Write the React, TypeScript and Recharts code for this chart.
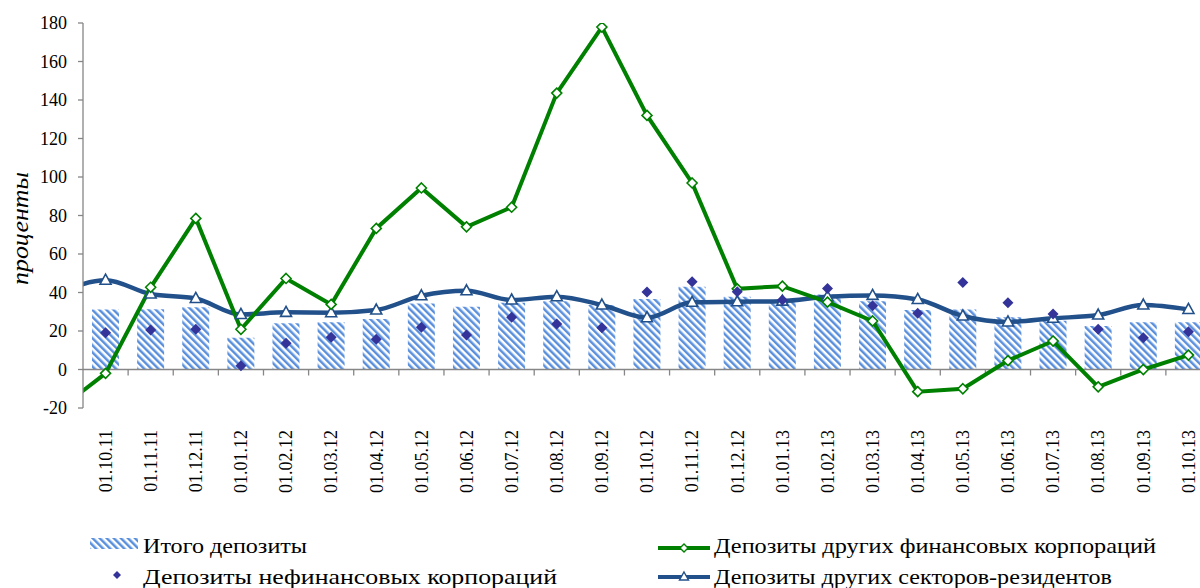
import React from 'react';
import { ComposedChart, Bar, Line, Scatter, XAxis, YAxis, ReferenceLine, Label } from 'recharts';

// 01.09.11 is the point before the visible range (only its line stubs are visible at the left edge)
const categories = [
  '01.09.11', '01.10.11', '01.11.11', '01.12.11', '01.01.12', '01.02.12', '01.03.12', '01.04.12',
  '01.05.12', '01.06.12', '01.07.12', '01.08.12', '01.09.12', '01.10.12', '01.11.12', '01.12.12',
  '01.01.13', '01.02.13', '01.03.13', '01.04.13', '01.05.13', '01.06.13', '01.07.13', '01.08.13',
  '01.09.13', '01.10.13',
];

const totalDeposits = [
  null, 31.2, 31.3, 32.3, 16.5, 24.0, 24.6, 26.2, 34.3, 32.6, 34.7, 35.5, 33.5, 36.6, 43.0, 37.8,
  35.2, 39.0, 35.5, 30.9, 31.2, 27.1, 25.3, 22.6, 24.5, 24.5,
];

const nonFinancialCorps = [
  null, 19.1, 20.5, 20.9, 2.0, 13.6, 16.7, 15.7, 21.9, 17.9, 27.1, 23.6, 21.7, 40.2, 45.6, 40.4,
  36.1, 42.1, 33.1, 29.2, 45.2, 34.7, 28.8, 20.9, 16.5, 19.6,
];

const otherFinancialCorps = [
  -20, -2, 42.7, 78.5, 20.9, 47.3, 33.8, 73.3, 94.3, 74.1, 84.3, 143.6, 177.9, 132, 96.9, 41.9,
  43.3, 35, 25.2, -11.5, -10, 4.6, 14.8, -9, 0, 7.5,
];

const otherResidentSectors = [
  40, 46.4, 39.2, 36.9, 28.6, 29.7, 29.5, 30.9, 38.3, 40.9, 36.1, 37.8, 33.5, 26.9, 34.9, 35.2,
  35.5, 37.8, 38.5, 36.4, 27.8, 24.7, 26.6, 28.3, 33.5, 31.2,
];

const yTicks = [-20, 0, 20, 40, 60, 80, 100, 120, 140, 160, 180];

const seriesNames = {
  total: 'Итого депозиты',
  nonfin: 'Депозиты нефинансовых корпораций',
  ofc: 'Депозиты других финансовых корпораций',
  osr: 'Депозиты других секторов-резидентов',
};

const rows = categories.map((c, i) => ({
  idx: i - 1,
  label: c,
  total: totalDeposits[i],
  nonfin: nonFinancialCorps[i],
  ofc: otherFinancialCorps[i],
  osr: otherResidentSectors[i],
}));

const visibleRows = rows.filter((r) => r.idx >= 0);
const xTicks = visibleRows.map((r) => r.idx);
const scatterRows = rows.filter((r) => r.nonfin != null);

const GREEN = '#008000';
const BLUE = '#22508a';
const INDIGO = '#333399';
const HATCH = '#5a8fdc';
const AXIS = '#868686';
const FONT = '"Liberation Serif", "Times New Roman", serif';

const XTick = (props: any) => {
  const { x, y, payload } = props;
  const label = categories[payload.value + 1];
  return (
    <text x={x} y={y} transform={`rotate(-90, ${x}, ${y})`} textAnchor="end" dy="0.35em" fontSize={18} fill="#000" fontFamily={FONT}>
      {label}
    </text>
  );
};

const ZeroAxis = (p: any) => {
  const { x1, y1, x2, y2 } = p;
  const n = visibleRows.length;
  const step = (x2 - x1) / n;
  return (
    <g>
      <line x1={x1} y1={y1} x2={x2} y2={y2} stroke={AXIS} strokeWidth={1.3} />
      {Array.from({ length: n }, (_, k) => (
        <line key={k} x1={x1 + step * (k + 1)} y1={y1} x2={x1 + step * (k + 1)} y2={y1 + 6} stroke={AXIS} strokeWidth={1.3} />
      ))}
    </g>
  );
};

const diamondDot = (props: any) => {
  const { cx, cy, index } = props;
  if (cx == null || cy == null) return <g key={`gd-${index}`} />;
  const h = 5;
  return (
    <path key={`gd-${index}`} d={`M${cx},${cy - h} L${cx + h},${cy} L${cx},${cy + h} L${cx - h},${cy} Z`} fill="#fff" stroke={GREEN} strokeWidth={1.6} />
  );
};

const triangleDot = (props: any) => {
  const { cx, cy, index } = props;
  if (cx == null || cy == null) return <g key={`bt-${index}`} />;
  return (
    <path key={`bt-${index}`} d={`M${cx},${cy - 6} L${cx + 5.5},${cy + 4} L${cx - 5.5},${cy + 4} Z`} fill="#fff" stroke={BLUE} strokeWidth={1.6} />
  );
};

const ScatterDiamond = (props: any) => {
  const { cx, cy } = props;
  const h = 5.5;
  return <path d={`M${cx},${cy - h} L${cx + h},${cy} L${cx},${cy + h} L${cx - h},${cy} Z`} fill={INDIGO} />;
};

const YTitle = () => (
  <text
    x={28}
    y={228.5}
    transform="rotate(-90, 28, 228.5)"
    textAnchor="middle"
    fontStyle="italic"
    fontSize={23}
    textLength={113}
    lengthAdjust="spacingAndGlyphs"
    fill="#000"
    fontFamily={FONT}
  >
    проценты
  </text>
);

const LegendText = ({ x, y, w, children }: any) => (
  <text x={x} y={y} fontSize={21} fontFamily={FONT} fill="#000" textLength={w} lengthAdjust="spacingAndGlyphs">
    {children}
  </text>
);

const LegendBlock = () => (
  <svg width={1200} height={70} style={{ position: 'absolute', left: 0, top: 518 }}>
    <defs>
      <pattern id="hatchLegend" patternUnits="userSpaceOnUse" width="5" height="5" patternTransform="rotate(-45)">
        <rect width="5" height="5" fill="#fff" />
        <rect width="2.5" height="5" fill={HATCH} />
      </pattern>
    </defs>
    <rect x={90} y={20} width={48} height={11} fill="url(#hatchLegend)" />
    <LegendText x={143} y={35} w={164}>{seriesNames.total}</LegendText>
    <path d="M117,53 L121,57 L117,61 L113,57 Z" fill={INDIGO} />
    <LegendText x={143} y={66} w={414}>{seriesNames.nonfin}</LegendText>
    <line x1={658} y1={30} x2={710} y2={30} stroke={GREEN} strokeWidth={4} />
    <path d="M684,26 L688,30 L684,34 L680,30 Z" fill="#fff" stroke={GREEN} strokeWidth={1.4} />
    <LegendText x={714} y={35} w={442}>{seriesNames.ofc}</LegendText>
    <line x1={658} y1={59} x2={710} y2={59} stroke={BLUE} strokeWidth={4} />
    <path d="M684,54 L688.5,62 L679.5,62 Z" fill="#fff" stroke={BLUE} strokeWidth={1.4} />
    <LegendText x={714} y={66} w={398}>{seriesNames.osr}</LegendText>
  </svg>
);

export default function App() {
  return (
    <div style={{ position: 'absolute', left: 0, top: 0, width: 1200, height: 588, overflow: 'hidden', background: '#fff', fontFamily: FONT }}>
      <ComposedChart width={1215} height={588} data={rows} margin={{ top: 23, right: 4, left: 0, bottom: 90 }}>
        <defs>
          <pattern id="hatchBar" patternUnits="userSpaceOnUse" width="5" height="5" patternTransform="rotate(-45)">
            <rect width="5" height="5" fill="#fff" />
            <rect width="2.5" height="5" fill={HATCH} />
          </pattern>
        </defs>
        <XAxis
          dataKey="idx"
          type="number"
          domain={[-0.5, visibleRows.length - 0.5]}
          allowDataOverflow
          ticks={xTicks}
          interval={0}
          tick={<XTick />}
          tickLine={false}
          axisLine={false}
          tickSize={0}
          tickMargin={22}
          height={90}
        />
        <YAxis
          type="number"
          domain={[-20, 180]}
          ticks={yTicks}
          interval={0}
          width={83}
          tick={{ fontSize: 18, fill: '#000', fontFamily: FONT }}
          tickSize={5}
          tickMargin={11}
          tickLine={{ stroke: AXIS, strokeWidth: 1.3 }}
          axisLine={{ stroke: AXIS, strokeWidth: 1.3 }}
          allowDataOverflow
        >
          <Label content={<YTitle />} />
        </YAxis>
        <Bar dataKey="total" name={seriesNames.total} barSize={27} fill="url(#hatchBar)" isAnimationActive={false} />
        <ReferenceLine y={0} shape={<ZeroAxis />} ifOverflow="visible" />
        <Line
          dataKey="osr"
          name={seriesNames.osr}
          type="monotone"
          stroke={BLUE}
          strokeWidth={4.5}
          dot={triangleDot}
          activeDot={false}
          isAnimationActive={false}
        />
        <Line
          dataKey="ofc"
          name={seriesNames.ofc}
          type="linear"
          stroke={GREEN}
          strokeWidth={4}
          dot={diamondDot}
          activeDot={false}
          isAnimationActive={false}
        />
        <Scatter data={scatterRows} dataKey="nonfin" name={seriesNames.nonfin} shape={<ScatterDiamond />} isAnimationActive={false} />
      </ComposedChart>
      <LegendBlock />
    </div>
  );
}
